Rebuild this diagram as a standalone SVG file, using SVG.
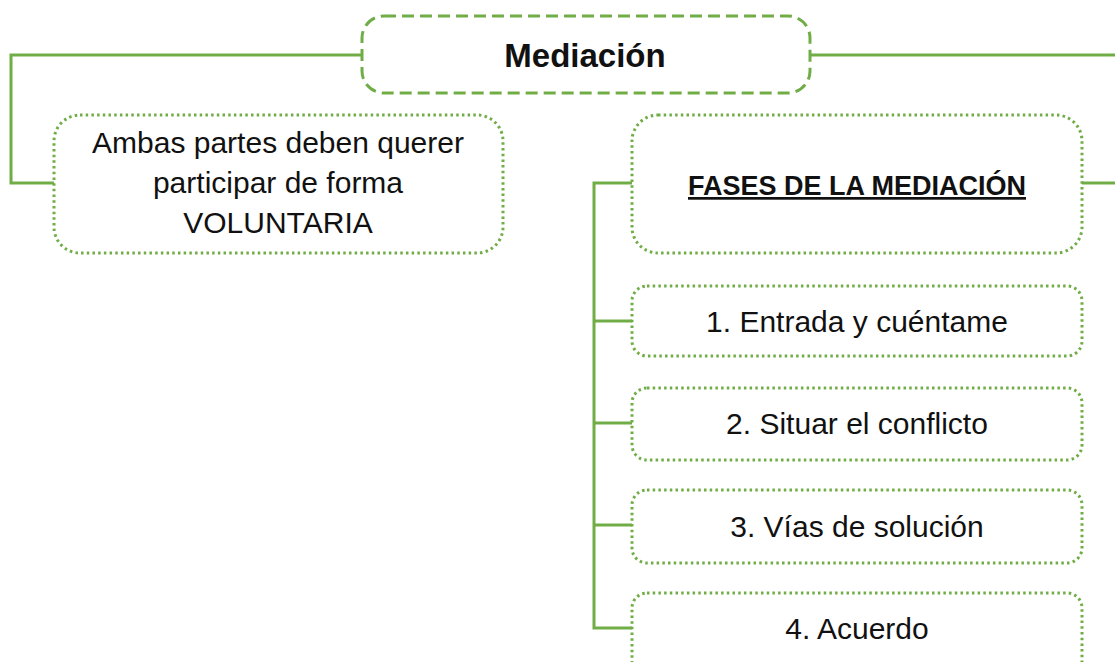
<svg xmlns="http://www.w3.org/2000/svg" width="1115" height="662" viewBox="0 0 1115 662">
<style>
.conn{fill:none;stroke:#70AD47;stroke-width:3}
.dash{fill:#fff;stroke:#70AD47;stroke-width:3;stroke-dasharray:12 6}
.dot{fill:#fff;stroke:#70AD47;stroke-width:3;stroke-dasharray:2.5 3.2}
.t{font-family:"Liberation Sans",Arial,sans-serif;font-size:30px;fill:#111;text-anchor:middle}
.b{font-weight:bold}
</style>
<rect width="1115" height="662" fill="#fff"/>
<g id="connectors">
<path class="conn" d="M362 55 H11 V183 H54"/>
<path class="conn" d="M810 55 H1115"/>
<path class="conn" d="M1082 183 H1115"/>
<path class="conn" d="M632 183 H594 V628 H632 M594 321 H632 M594 423 H632 M594 525 H632"/>
</g>
<g id="mediacion">
<rect class="dash" x="362" y="16" width="448" height="77" rx="22"/>
<text class="t b" x="585" y="67" font-size="33" style="font-size:33px">Mediación</text>
</g>
<g id="voluntaria">
<rect class="dot" x="54" y="115" width="449" height="138" rx="26"/>
<text class="t" x="278" y="153">Ambas partes deben querer</text>
<text class="t" x="278" y="193">participar de forma</text>
<text class="t" x="278" y="233">VOLUNTARIA</text>
</g>
<g id="fases">
<rect class="dot" x="632" y="115" width="450" height="138" rx="26"/>
<text class="t b" x="857" y="195" style="font-size:27px;text-decoration:underline">FASES DE LA MEDIACIÓN</text>
</g>
<g id="fase1">
<rect class="dot" x="632" y="286" width="450" height="70" rx="15"/>
<text class="t" x="857" y="332">1. Entrada y cuéntame</text>
</g>
<g id="fase2">
<rect class="dot" x="632" y="388" width="450" height="72" rx="15"/>
<text class="t" x="857" y="434">2. Situar el conflicto</text>
</g>
<g id="fase3">
<rect class="dot" x="632" y="490" width="450" height="73" rx="15"/>
<text class="t" x="857" y="537">3. Vías de solución</text>
</g>
<g id="fase4">
<rect class="dot" x="632" y="593" width="450" height="90" rx="15"/>
<text class="t" x="857" y="639">4. Acuerdo</text>
</g>
</svg>
